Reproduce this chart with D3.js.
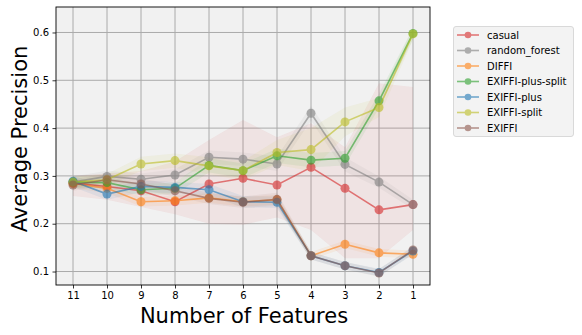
<!DOCTYPE html>
<html><head><meta charset="utf-8">
<script src="https://cdn.jsdelivr.net/npm/d3@7"></script>
<style>body{margin:0;background:#fff}svg{display:block;font-family:"DejaVu Sans",sans-serif}</style>
</head><body><svg id="c" width="582" height="335"></svg>
<script>
const features = [11,10,9,8,7,6,5,4,3,2,1];
const yTicks = [0.1,0.2,0.3,0.4,0.5,0.6];
const seriesNames = ["casual","random_forest","DIFFI","EXIFFI-plus-split","EXIFFI-plus","EXIFFI-split","EXIFFI"];
const seriesColors = ["#d62728","#7f7f7f","#ff7f0e","#2ca02c","#1f77b4","#bcbd22","#8c564b"];

const casual          = [0.285,0.278,0.269,0.246,0.283,0.295,0.281,0.318,0.274,0.229,0.240];
const randomForest    = [0.287,0.299,0.293,0.302,0.339,0.335,0.325,0.431,0.324,0.287,0.240];
const diffi           = [0.284,0.274,0.246,0.248,0.254,0.246,0.250,0.133,0.157,0.139,0.136];
const exiffiPlusSplit = [0.287,0.286,0.271,0.274,0.322,0.311,0.342,0.333,0.337,0.457,0.598];
const exiffiPlus      = [0.289,0.262,0.278,0.276,0.271,0.246,0.245,0.133,0.112,0.098,0.143];
const exiffiSplit     = [0.287,0.292,0.325,0.332,0.321,0.311,0.349,0.355,0.413,0.443,0.597];
const exiffi          = [0.281,0.292,0.283,0.269,0.253,0.245,0.251,0.133,0.112,0.097,0.145];

// shaded bands
const casualLow  = [0.258,0.250,0.235,0.220,0.200,0.198,0.213,0.187,0.128,0.128,0.187];
const casualHigh = [0.300,0.305,0.310,0.330,0.375,0.417,0.381,0.410,0.360,0.494,0.486];
const randomForestStd    = [0.012,0.012,0.012,0.012,0.014,0.014,0.015,0.015,0.015,0.012,0.010];
const diffiStd           = [0.010,0.010,0.010,0.010,0.010,0.010,0.010,0.008,0.008,0.008,0.008];
const exiffiPlusSplitStd = [0.012,0.012,0.012,0.012,0.015,0.015,0.015,0.015,0.015,0.015,0.012];
const exiffiPlusStd      = [0.012,0.012,0.012,0.012,0.012,0.012,0.012,0.008,0.008,0.008,0.008];
const exiffiSplitStd     = [0.012,0.012,0.015,0.015,0.018,0.020,0.026,0.045,0.030,0.020,0.012];
const exiffiStd          = [0.012,0.012,0.012,0.012,0.012,0.012,0.014,0.008,0.008,0.008,0.008];

const seriesValues = [casual,randomForest,diffi,exiffiPlusSplit,exiffiPlus,exiffiSplit,exiffi];
const seriesStd = [null,randomForestStd,diffiStd,exiffiPlusSplitStd,exiffiPlusStd,exiffiSplitStd,exiffiStd];

const svg = d3.select("#c");
const L=56, R=430, T=7, B=285;
const x = d3.scaleLinear().domain([11.5,0.5]).range([L,R]);
const y = d3.scaleLinear().domain([0.0718,0.6533]).range([B,T]);

svg.append("rect").attr("x",L).attr("y",T).attr("width",R-L).attr("height",B-T).attr("fill","#f1f1f1");

// grid
const g = svg.append("g");
g.selectAll(".vg").data(features).enter().append("line")
  .attr("x1",d=>x(d)).attr("x2",d=>x(d)).attr("y1",T).attr("y2",B)
  .attr("stroke","#aaaaaa").attr("stroke-width",1);
g.selectAll(".hg").data(yTicks).enter().append("line")
  .attr("x1",L).attr("x2",R).attr("y1",d=>y(d)).attr("y2",d=>y(d))
  .attr("stroke","#aaaaaa").attr("stroke-width",1);

const area = d3.area().x(d=>x(d.f)).y0(d=>y(d.lo)).y1(d=>y(d.hi));
const line = d3.line().x(d=>x(d.f)).y(d=>y(d.v));

// bands
seriesValues.forEach((vals,i)=>{
  const data = features.map((f,k)=>{
    if(i===0) return {f, lo:casualLow[k], hi:casualHigh[k]};
    return {f, lo:vals[k]-seriesStd[i][k], hi:vals[k]+seriesStd[i][k]};
  });
  svg.append("path").attr("d",area(data)).attr("fill",seriesColors[i]).attr("fill-opacity",i===0?0.07:0.08);
});

// lines + markers
seriesValues.forEach((vals,i)=>{
  const data = features.map((f,k)=>({f,v:vals[k]}));
  const gg = svg.append("g").attr("opacity",0.6);
  gg.append("path").attr("d",line(data)).attr("fill","none").attr("stroke",seriesColors[i]).attr("stroke-width",1.6);
  gg.selectAll("circle").data(data).enter().append("circle")
    .attr("cx",d=>x(d.f)).attr("cy",d=>y(d.v)).attr("r",4.5).attr("fill",seriesColors[i]);
});

// spines
svg.append("rect").attr("x",L).attr("y",T).attr("width",R-L).attr("height",B-T)
  .attr("fill","none").attr("stroke","#000").attr("stroke-width",0.9);

// axes
const xAxis = d3.axisBottom(x).tickValues(features).tickFormat(d3.format("d")).tickSize(3.5).tickPadding(3.5);
const xa = svg.append("g").attr("transform",`translate(0,${B})`).call(xAxis);
const yAxis = d3.axisLeft(y).tickValues(yTicks).tickFormat(d3.format(".1f")).tickSize(3.5).tickPadding(3.5);
const ya = svg.append("g").attr("transform",`translate(${L},0)`).call(yAxis);
[xa,ya].forEach(a=>{
  a.select(".domain").remove();
  a.selectAll("line").attr("stroke","#000").attr("stroke-width",0.8);
  a.selectAll("text").attr("font-family","DejaVu Sans").attr("font-size",10).attr("fill","#000");
});

svg.append("text").attr("x",(L+R)/2+1).attr("y",323).attr("text-anchor","middle")
  .attr("font-size",21).attr("fill","#000").text("Number of Features");
svg.append("text").attr("transform",`translate(27,${(T+B)/2-7}) rotate(-90)`).attr("text-anchor","middle")
  .attr("font-size",21).attr("fill","#000").text("Average Precision");

// legend
const lg = svg.append("g");
lg.append("rect").attr("x",453.5).attr("y",26.5).attr("width",120).attr("height",110).attr("rx",2.5)
  .attr("fill","#f3f3f3").attr("stroke","#d0d0d0").attr("stroke-width",0.8);
seriesNames.forEach((n,i)=>{
  const yy = 35 + i*15.5;
  const e = lg.append("g");
  const m = e.append("g").attr("opacity",0.6);
  m.append("line").attr("x1",457).attr("x2",479).attr("y1",yy).attr("y2",yy).attr("stroke",seriesColors[i]).attr("stroke-width",1.6);
  m.append("circle").attr("cx",468).attr("cy",yy).attr("r",3.3).attr("fill",seriesColors[i]);
  e.append("text").attr("x",487).attr("y",yy+3.5).attr("font-size",10).attr("fill","#000").text(n);
});
</script></body></html>
